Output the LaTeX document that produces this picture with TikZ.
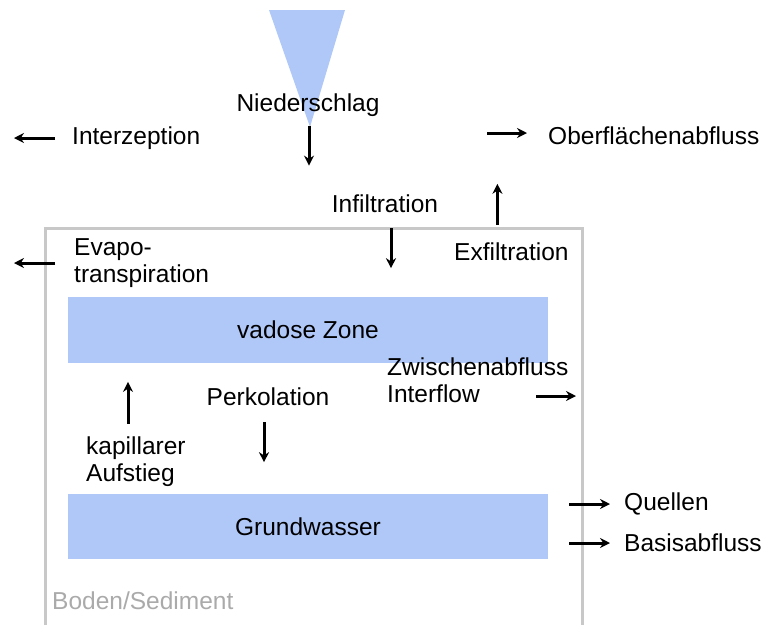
\documentclass[tikz,border=0pt]{standalone}
\usepackage{fontspec}
\setmainfont{Liberation Sans}
\usetikzlibrary{arrows.meta}

\definecolor{zoneblue}{RGB}{176,200,248}
\definecolor{soilgray}{RGB}{200,200,200}
\definecolor{bodengray}{RGB}{170,170,170}

\tikzstyle{txt} = [inner sep=0pt, font=\fontsize{24.5}{27}\selectfont, align=left]
\tikzstyle{zone-block} = [txt, fill=zoneblue, minimum width=480pt, minimum height=66pt]
\tikzstyle{flow} = [line width=3pt, -{Stealth[length=10pt,width=10pt]}]

\begin{document}
\begin{tikzpicture}[x=1pt, y=-1pt]

	\useasboundingbox (0,0) rectangle (761,625);

	% precipitation cone and soil column
	\fill [zoneblue] (269,10) -- (345,10) -- (310,127) -- cycle;
	\draw [soilgray, line width=3pt] (45,625) -- (45,228) -- (582,228) -- (582,625);

	 \node [txt] (nieder) at (308,105) {Niederschlag};
	 \node [txt, anchor=west] (interz) at (72,138) {Interzeption};
	 \node [txt, anchor=west] (oberfl) at (548,136) {Oberflächenabfluss};
	 \node [txt] (infil) at (385,204) {Infiltration};
	 \node [txt, anchor=west] (exfil) at (454,252) {Exfiltration};
	 \node [txt, anchor=west] (evapo) at (74,263) {Evapo-\\transpiration};
	 \node [zone-block] (vadose) at (308,330) {vadose Zone};
	 \node [txt, anchor=west] (zwisch) at (387,380) {Zwischenabfluss\\Interflow};
	 \node [txt, anchor=west] (kapill) at (86,462) {kapillarer\\Aufstieg};
	 \node [txt] (perk) at (268,397) {Perkolation};
	 \node [zone-block, minimum height=65pt] (grund) at (308,526.5) {Grundwasser};
	 \node [txt, anchor=west] (quell) at (624,504) {Quellen};
	 \node [txt, anchor=west] (basis) at (624,543) {Basisabfluss};
	 \node [txt, anchor=west, text=bodengray] (boden) at (52,601) {Boden/Sediment};

	\draw [flow] (nieder.south) ++(1,9) -- ++(0,40);
	\draw [flow] (interz.west) ++(-17,0) -- ++(-41,0);
	\draw [flow] (oberfl.west) ++(-61,-3) -- ++(40,0);

	\draw [flow] (infil.south) ++(6,15) -- ++(0,40);
	\draw [flow] (exfil.north) ++(-14,-18) -- ++(0,-41);
	\draw [flow] (evapo.west) ++(-19,0) -- ++(-41,0);

	\draw [flow] (zwisch.west) ++(149,16) -- ++(40,0);
	\draw [flow] (kapill.north west) ++(42,-13) -- ++(0,-42);
	\draw [flow] (perk.south) ++(-4,16) -- ++(0,40);

	\draw [flow] (quell.west) ++(-55,0) -- ++(41,0);
	\draw [flow] (basis.west) ++(-55,0) -- ++(41,0);

	\end{tikzpicture}
\end{document}
